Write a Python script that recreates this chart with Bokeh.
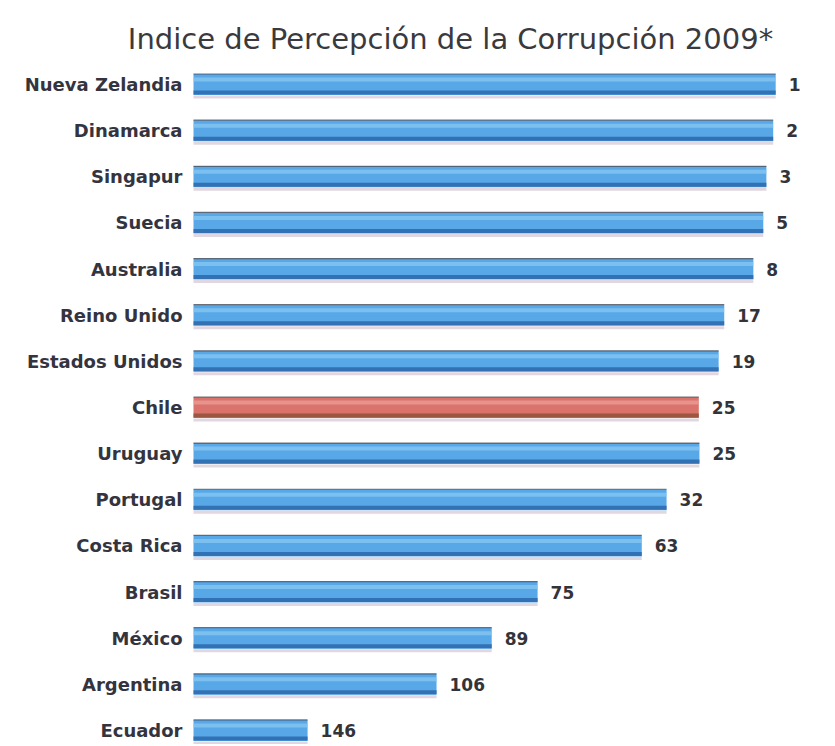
from bokeh.plotting import figure
from bokeh.models import Range1d, ColumnDataSource
from bokeh.core.properties import value
from bokeh.embed import file_html
from bokeh.resources import INLINE

title_text = "Indice de Percepción de la Corrupción 2009*"
countries = ["Nueva Zelandia", "Dinamarca", "Singapur", "Suecia", "Australia",
             "Reino Unido", "Estados Unidos", "Chile", "Uruguay", "Portugal",
             "Costa Rica", "Brasil", "México", "Argentina", "Ecuador"]
bar_values = [9.39, 9.35, 9.24, 9.19, 9.03, 8.56, 8.47, 8.15, 8.16, 7.63,
              7.23, 5.55, 4.81, 3.92, 1.84]
ranks = ["1", "2", "3", "5", "8", "17", "19", "25", "25", "32",
         "63", "75", "89", "106", "146"]
highlight = "Chile"

W, H = 819, 744
PX_PER_UNIT = 62.0
X0_PX = 193.0
ROW_PX = 46.14
ROW0_PX = 84.0

x_start = -X0_PX / PX_PER_UNIT
x_end = (W - X0_PX) / PX_PER_UNIT
y_top = -ROW0_PX / ROW_PX
y_bottom = (H - ROW0_PX) / ROW_PX

def py(px):
    return px / ROW_PX

n = len(countries)
idx = list(range(n))
main_col = ["#d9736c" if c == highlight else "#58a8e8" for c in countries]
dark_col = ["#8f5238" if c == highlight else "#2c68aa" for c in countries]
light_col = ["#eea39b" if c == highlight else "#8ccaf4" for c in countries]

src = ColumnDataSource(dict(
    y=idx, country=countries, v=bar_values, rank=ranks,
    main=main_col, dark=dark_col, light=light_col,
    y_shadow=[i + py(12.5) for i in idx],
    y_bot=[i + py(8) for i in idx],
    y_hi=[i - py(5) for i in idx],
    y_topline=[i - py(10.5) for i in idx],
))

p = figure(width=W, height=H, output_backend="svg", toolbar_location=None,
           x_range=Range1d(x_start, x_end), y_range=Range1d(y_bottom, y_top),
           min_border=0, outline_line_color=None)
p.axis.visible = False
p.grid.visible = False
p.background_fill_color = "white"

# soft shadow under bars
p.hbar(y="y_shadow", left=0, right="v", height=py(3), source=src,
       fill_color="#c9b6c8", fill_alpha=0.55, line_color=None)
# main bars
p.hbar(y="y", left=0, right="v", height=py(21), source=src,
       fill_color="main", line_color=None)
# top highlight
p.hbar(y="y_hi", left=0, right="v", height=py(4), source=src,
       fill_color="light", fill_alpha=0.7, line_color=None)
# bottom darker band
p.hbar(y="y_bot", left=0, right="v", height=py(4), source=src,
       fill_color="dark", fill_alpha=0.85, line_color=None)
# thin top line
p.hbar(y="y_topline", left=0, right="v", height=py(1.2), source=src,
       fill_color="#3c3c44", fill_alpha=0.7, line_color=None)

# category labels
p.text(x=0, y="y", text="country", source=src, x_offset=-11,
       text_align="right", text_baseline="middle",
       text_font=value("DejaVu Sans"), text_font_style="bold",
       text_font_size="18px", text_color="#34343f")

# rank labels
p.text(x="v", y="y", text="rank", source=src, x_offset=13,
       text_align="left", text_baseline="middle",
       text_font=value("DejaVu Sans"), text_font_style="bold",
       text_font_size="17px", text_color="#33333a")

# title
p.text(x=[(450 - X0_PX) / PX_PER_UNIT], y=[py(38 - ROW0_PX)], text=[title_text],
       text_align="center", text_baseline="middle",
       text_font=value("DejaVu Sans"), text_font_size="29px",
       text_color="#3a3a3e")

open("out.html", "w").write(file_html(p, INLINE))
